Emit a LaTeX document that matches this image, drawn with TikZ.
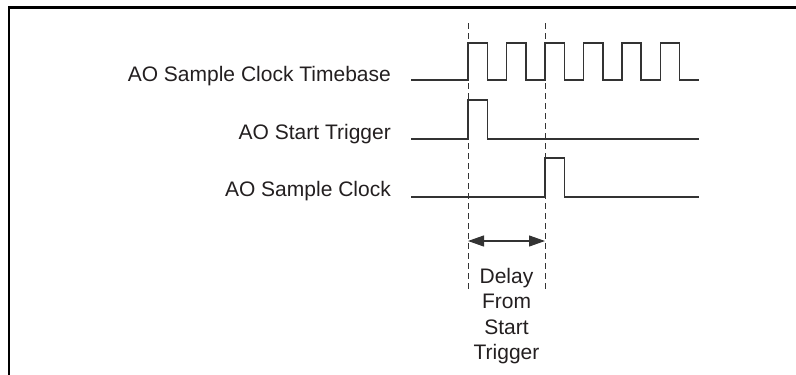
\documentclass[tikz,border=0pt]{standalone}
\usepackage{fontspec}
\setmainfont{Liberation Sans}
\usetikzlibrary{arrows.meta}
\definecolor{ink}{HTML}{231F20}
\definecolor{wave}{HTML}{333333}
\tikzset{
  lbl/.style={anchor=base east, inner sep=0pt, text=ink, font=\fontsize{21}{25.5}\selectfont},
  sig/.style={draw=wave, line width=1.1pt, line join=miter},
  guide/.style={draw=wave, line width=1pt, dash pattern=on 6pt off 4pt},
  frame/.style={draw=black, line width=2.6pt},
  dim/.style={draw=wave, line width=1.1pt, {Triangle[length=16pt,width=11pt]}-{Triangle[length=16pt,width=11pt]}}
}
\begin{document}
\begin{tikzpicture}[x=1pt,y=-1pt]
\useasboundingbox (0,0) rectangle (796,375);
% frame
\draw[frame] (796,7.7) -- (8.8,7.7) -- (8.8,375);
% labels
\node[lbl] (tb) at (391,81) {AO Sample Clock Timebase};
\node[lbl] (st) at (391,139) {AO Start Trigger};
\node[lbl] (sc) at (391,196) {AO Sample Clock};
% guides
\coordinate (g1t) at (468,23);
\coordinate (g1b) at (468,292);
\coordinate (g2t) at (545,23);
\coordinate (g2b) at (545,292);
\draw[guide] (g1t) -- (g1b);
\draw[guide] (g2t) -- (g2b);
% timebase
\draw[sig] (411,80) -- (468,80) -- (468,43) -- (487.5,43) -- (487.5,80)
  -- (506.5,80) -- (506.5,43) -- (526,43) -- (526,80)
  -- (545,80) -- (545,43) -- (564.5,43) -- (564.5,80)
  -- (583.5,80) -- (583.5,43) -- (603,43) -- (603,80)
  -- (622,80) -- (622,43) -- (641,43) -- (641,80)
  -- (660.5,80) -- (660.5,43) -- (679.5,43) -- (679.5,80) -- (699,80);
% start trigger
\draw[sig] (411,139) -- (468,139) -- (468,100) -- (487.5,100) -- (487.5,139) -- (699,139);
% sample clock
\draw[sig] (411,197) -- (545,197) -- (545,158) -- (564.5,158) -- (564.5,197) -- (699,197);
% delay arrow
\coordinate (a1) at (468,241);
\coordinate (a2) at (545,241);
\draw[dim] (a1) -- (a2);
\node[anchor=north, inner sep=0pt, align=center, text=ink, font=\fontsize{21}{25.5}\selectfont] (dl) at (506.5,268) {Delay\\From\\Start\\Trigger};
\end{tikzpicture}
\end{document}
